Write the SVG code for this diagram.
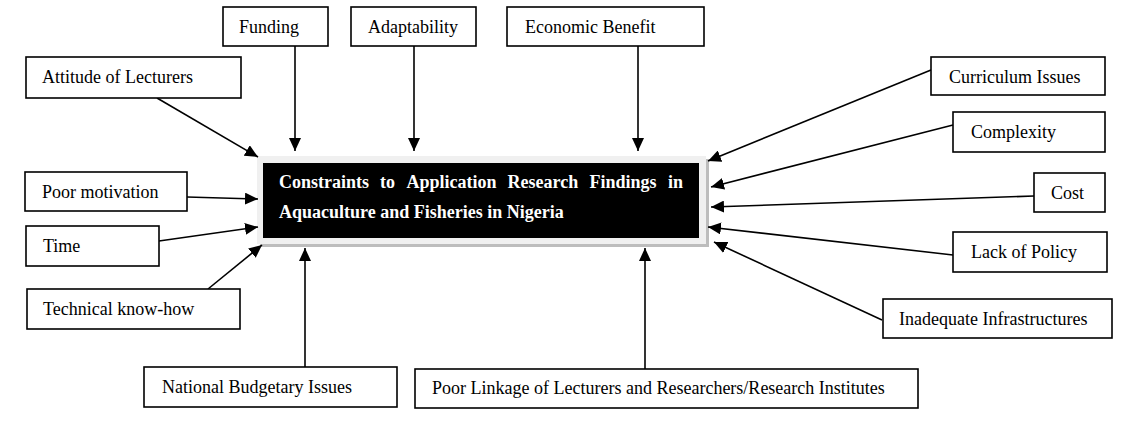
<svg xmlns="http://www.w3.org/2000/svg" width="1123" height="421" viewBox="0 0 1123 421">
<style>
.box{fill:#ffffff;stroke:#000000;stroke-width:1.6}
.lbl{font-family:"Liberation Serif","Times New Roman",serif;font-size:18px;fill:#000000}
.ttl{font-family:"Liberation Serif","Times New Roman",serif;font-size:18px;font-weight:bold;fill:#ffffff}
.con{stroke:#000000;stroke-width:1.6;fill:none;marker-end:url(#ah)}
</style>
<defs>
<marker id="ah" markerUnits="userSpaceOnUse" markerWidth="14" markerHeight="12" refX="13" refY="6" orient="auto">
<path d="M0,0 L13,6 L0,12 Z" fill="#000000"/>
</marker>
</defs>
<rect width="1123" height="421" fill="#ffffff"/>

<g id="center">
<rect x="260" y="159" width="449" height="88" fill="#bdbdbd"/>
<rect x="257" y="156" width="449" height="88" fill="#f0f0f0"/>
<rect x="263" y="163" width="436" height="75" fill="#000000"/>
<text class="ttl" y="188"><tspan x="279">Constraints</tspan><tspan x="380">to</tspan><tspan x="406.5">Application</tspan><tspan x="507.5">Research</tspan><tspan x="589.5">Findings</tspan><tspan x="668">in</tspan></text>
<text class="ttl" x="279" y="218">Aquaculture and Fisheries in Nigeria</text>
</g>

<g id="connectors">
<line class="con" x1="157" y1="98" x2="258" y2="157"/>
<line class="con" x1="295" y1="46" x2="295" y2="151"/>
<line class="con" x1="414" y1="46" x2="414" y2="151"/>
<line class="con" x1="638" y1="46" x2="638" y2="151"/>
<line class="con" x1="187" y1="197" x2="258" y2="199"/>
<line class="con" x1="159" y1="241" x2="258" y2="227"/>
<line class="con" x1="208" y1="289" x2="262" y2="245"/>
<line class="con" x1="305" y1="367" x2="305" y2="248"/>
<line class="con" x1="645" y1="369" x2="645" y2="248"/>
<line class="con" x1="931" y1="70" x2="708" y2="161"/>
<line class="con" x1="953" y1="125" x2="711" y2="187"/>
<line class="con" x1="1034" y1="196" x2="711" y2="207"/>
<line class="con" x1="953" y1="255" x2="708" y2="227"/>
<line class="con" x1="882" y1="320" x2="714" y2="242"/>
</g>

<g id="n-attitude"><rect class="box" x="26" y="57" width="215" height="41"/><text class="lbl" x="42" y="83">Attitude of Lecturers</text></g>
<g id="n-funding"><rect class="box" x="223" y="7" width="105" height="39"/><text class="lbl" x="239" y="33">Funding</text></g>
<g id="n-adaptability"><rect class="box" x="351" y="7" width="125" height="39"/><text class="lbl" x="368" y="33">Adaptability</text></g>
<g id="n-economic"><rect class="box" x="507" y="7" width="197" height="39"/><text class="lbl" x="525" y="33">Economic Benefit</text></g>
<g id="n-motivation"><rect class="box" x="25" y="172" width="162" height="39"/><text class="lbl" x="42" y="198">Poor motivation</text></g>
<g id="n-time"><rect class="box" x="26" y="226" width="133" height="40"/><text class="lbl" x="43" y="252">Time</text></g>
<g id="n-technical"><rect class="box" x="27" y="289" width="213" height="40"/><text class="lbl" x="43" y="315">Technical know-how</text></g>
<g id="n-budget"><rect class="box" x="144" y="367" width="253" height="40"/><text class="lbl" x="162" y="393">National Budgetary Issues</text></g>
<g id="n-linkage"><rect class="box" x="415" y="369" width="503" height="39"/><text class="lbl" x="432" y="394">Poor Linkage of Lecturers and Researchers/Research Institutes</text></g>
<g id="n-curriculum"><rect class="box" x="931" y="57" width="174" height="38"/><text class="lbl" x="949" y="83">Curriculum Issues</text></g>
<g id="n-complexity"><rect class="box" x="953" y="112" width="152" height="40"/><text class="lbl" x="971" y="138">Complexity</text></g>
<g id="n-cost"><rect class="box" x="1034" y="173" width="71" height="39"/><text class="lbl" x="1051" y="199">Cost</text></g>
<g id="n-policy"><rect class="box" x="953" y="232" width="154" height="40"/><text class="lbl" x="971" y="258">Lack of Policy</text></g>
<g id="n-infra"><rect class="box" x="883" y="299" width="229" height="39"/><text class="lbl" x="899" y="325">Inadequate Infrastructures</text></g>
</svg>
